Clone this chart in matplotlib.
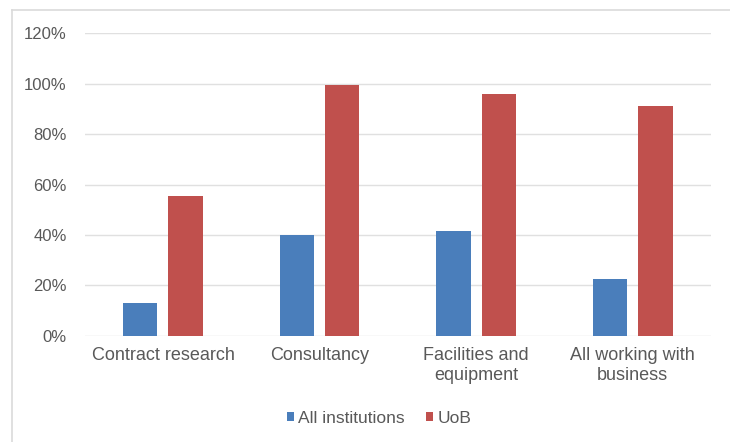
import matplotlib.pyplot as plt
import numpy as np
from matplotlib.lines import Line2D
from matplotlib.ticker import PercentFormatter

categories = ["Contract research", "Consultancy", "Facilities and\nequipment",
              "All working with\nbusiness"]
all_institutions = [13, 40, 41.5, 22.5]
uob = [55.5, 99.5, 96, 91]

blue = "#4a7ebb"
red = "#c0504d"

plt.rcParams["font.family"] = ["Liberation Sans", "DejaVu Sans"]

fig = plt.figure(figsize=(7.3, 4.42), dpi=100)
ax = fig.add_axes([0.116, 0.24, 0.858, 0.685])

x = np.arange(len(categories))
w = 0.22
ax.bar(x - 0.145, all_institutions, w, color=blue, label="All institutions", zorder=3)
ax.bar(x + 0.145, uob, w, color=red, label="UoB", zorder=3)

ax.set_xlim(-0.5, len(categories) - 0.5)
ax.set_ylim(0, 120)
ax.set_yticks(np.arange(0, 121, 20))
ax.yaxis.set_major_formatter(PercentFormatter(decimals=0))
ax.set_xticks(x)
ax.set_xticklabels(categories, fontsize=13, color="#595959", linespacing=1.25)
ax.tick_params(axis="y", labelsize=12, labelcolor="#595959", length=0, pad=13)
ax.tick_params(axis="x", length=0, pad=8)
ax.grid(axis="y", color="#e0e0e0", linewidth=1, zorder=0)
for s in ax.spines.values():
    s.set_visible(False)

ax.legend(loc="upper center", bbox_to_anchor=(0.47, -0.195), ncol=2, frameon=False,
          fontsize=12.5, handlelength=0.4, handleheight=0.4, handletextpad=0.25,
          columnspacing=1.2, labelcolor="#595959")

# chart area border (top and left edges)
fig.add_artist(Line2D([12 / 730, 12 / 730], [0, 1 - 10 / 442], color="#dadada",
                      linewidth=1.2, transform=fig.transFigure))
fig.add_artist(Line2D([12 / 730, 1], [1 - 10 / 442, 1 - 10 / 442], color="#dadada",
                      linewidth=1.2, transform=fig.transFigure))

fig.savefig("out.png", dpi=100)
